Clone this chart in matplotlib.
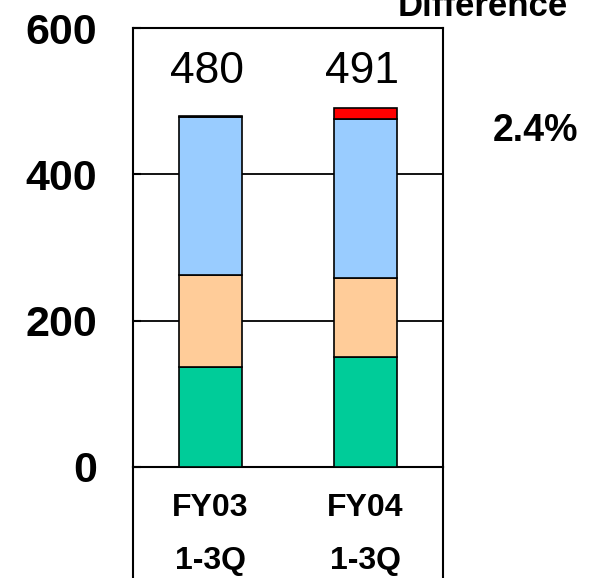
import matplotlib
matplotlib.use("Agg")
import matplotlib.pyplot as plt
from matplotlib.lines import Line2D
import numpy as np

plt.rcParams['font.family'] = ['Liberation Sans', 'DejaVu Sans']

# Data
periods = ["FY03\n1-3Q", "FY04\n1-3Q"]
seg_green = [137, 151]
seg_orange = [126, 107]
seg_blue = [215, 218]
seg_red = [2, 15]
totals = [480, 491]
yticks = [0, 200, 400, 600]
diff_label = "2.4%"

colors = ["#00CC99", "#FFCC99", "#99CCFF", "#FF0000"]

fig = plt.figure(figsize=(6.10, 5.78), dpi=100)
ax = fig.add_axes([133 / 610, 1 - 467 / 578, 310 / 610, 439 / 578])

x = np.arange(len(periods))
width = 0.41
bottom = np.zeros(len(periods))
for vals, col in zip([seg_green, seg_orange, seg_blue, seg_red], colors):
    ax.bar(x, vals, width, bottom=bottom, color=col, edgecolor="black",
           linewidth=1.2, zorder=3)
    bottom += np.array(vals)

ax.set_xlim(-0.5, 1.5)
ax.set_ylim(0, 600)

ax.set_yticks(yticks)
ax.set_yticklabels([str(v) for v in yticks], fontsize=31, fontweight="bold")
ax.tick_params(axis="y", direction="in", length=6, width=1.5, pad=26)
ax.set_xticks(x)
ax.set_xticklabels(periods, fontsize=23, fontweight="bold", linespacing=2.0)
ax.tick_params(axis="x", length=0, pad=19)

ax.yaxis.grid(True, color="black", linewidth=1.3)
ax.set_axisbelow(True)

for sp in ax.spines.values():
    sp.set_linewidth(1.5)
    sp.set_color("black")

# side lines continue down through the category label area
for xv in (0, 1):
    ax.add_line(Line2D([xv, xv], [0, -111 / 439], transform=ax.transAxes,
                       color="black", linewidth=1.5, clip_on=False))

for xi, t in zip(x, totals):
    ax.text(xi - 0.02, 541, str(t), ha="center", va="center", fontsize=32)

fig.text(483 / 610, 1 - 16 / 578, "Difference", ha="center", va="baseline",
         fontsize=25, fontweight="bold")
fig.text(535 / 610, 1 - 131 / 578, diff_label, ha="center", va="center",
         fontsize=27, fontweight="bold")

fig.savefig("out.png", dpi=100)
